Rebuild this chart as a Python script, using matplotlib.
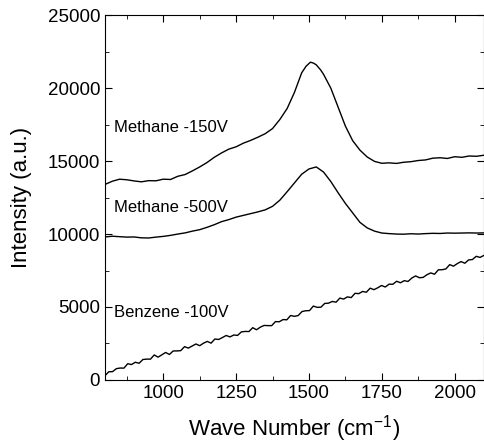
import numpy as np
import matplotlib
matplotlib.use("Agg")
import matplotlib.pyplot as plt
from matplotlib.ticker import MultipleLocator

plt.rcParams["font.family"] = ["Liberation Sans", "DejaVu Sans"]
plt.rcParams["mathtext.fontset"] = "custom"
plt.rcParams["mathtext.rm"] = "Liberation Sans"
plt.rcParams["mathtext.it"] = "Liberation Sans"

# Methane -150V spectrum
ch4_150_x = [800, 825, 850, 875, 900, 925, 950, 975, 1000, 1025, 1050, 1075, 1100,
             1125, 1150, 1175, 1200, 1225, 1250, 1275, 1300, 1325, 1350, 1375, 1400,
             1425, 1450, 1475, 1490, 1505, 1515, 1525, 1540, 1550, 1575, 1600, 1625,
             1650, 1675, 1700, 1725, 1750, 1775, 1800, 1825, 1850, 1875, 1900, 1925,
             1950, 1975, 2000, 2025, 2050, 2075, 2100]
ch4_150_y = [13400, 13620, 13760, 13720, 13640, 13580, 13660, 13650, 13760, 13740,
             13960, 14080, 14330, 14600, 14900, 15260, 15560, 15820, 15980, 16230,
             16420, 16640, 16880, 17230, 17850, 18600, 19700, 21050, 21500, 21780,
             21720, 21600, 21250, 20950, 20000, 18700, 17400, 16400, 15750, 15280,
             14980, 14850, 14880, 14840, 14920, 14960, 15040, 15080, 15200, 15230,
             15180, 15300, 15260, 15350, 15330, 15400]

# Methane -500V spectrum
ch4_500_x = [800, 825, 850, 875, 900, 925, 950, 975, 1000, 1025, 1050, 1075, 1100,
             1125, 1150, 1175, 1200, 1225, 1250, 1275, 1300, 1325, 1350, 1375, 1400,
             1425, 1450, 1475, 1500, 1525, 1550, 1575, 1600, 1625, 1650, 1675, 1700,
             1725, 1750, 1775, 1800, 1825, 1850, 1875, 1900, 1925, 1950, 1975, 2000,
             2025, 2050, 2075, 2100]
ch4_500_y = [9800, 9850, 9820, 9790, 9800, 9740, 9730, 9790, 9840, 9910, 10000, 10080,
             10200, 10300, 10460, 10640, 10850, 10990, 11160, 11280, 11400, 11520,
             11660, 11900, 12320, 12900, 13500, 14100, 14460, 14600, 14250, 13600,
             12830, 12100, 11450, 10800, 10420, 10200, 10070, 10030, 10000, 9990,
             10020, 10000, 10030, 10050, 10040, 10070, 10060, 10070, 10080, 10070,
             10080]

# Benzene -100V spectrum (every 13 cm-1)
c6h6_x = np.arange(800, 2101, 13)
c6h6_y = [300, 560, 570, 774, 817, 810, 1113, 1056, 1214, 1142,
          1400, 1428, 1426, 1714, 1562, 1720, 1884, 1746, 1987, 1989,
          2010, 2282, 2183, 2325, 2466, 2348, 2519, 2641, 2522, 2804,
          2775, 2907, 3048, 2950, 3081, 3053, 3294, 3326, 3317, 3582,
          3440, 3618, 3736, 3724, 3722, 4000, 3988, 4138, 4122, 4416,
          4360, 4414, 4688, 4742, 4754, 5065, 4976, 4987, 5244, 5262,
          5380, 5328, 5612, 5543, 5694, 5645, 5938, 5916, 6064, 6012,
          6290, 6188, 6316, 6474, 6370, 6565, 6560, 6765, 6660, 6805,
          6750, 6985, 7130, 7005, 7030, 7215, 7336, 7247, 7548, 7556,
          7610, 7904, 7798, 7974, 8112, 8000, 8228, 8253, 8474, 8399,
          8530]

labels = ["Methane -150V", "Methane -500V", "Benzene -100V"]
label_y = [17300, 11800, 4650]

fig = plt.figure(figsize=(4.85, 4.47), dpi=100)
ax = fig.add_axes([0.2165, 0.150, 0.781, 0.816])

for xs, ys in [(ch4_150_x, ch4_150_y), (ch4_500_x, ch4_500_y), (c6h6_x, c6h6_y)]:
    ax.plot(xs, ys, color="black", lw=1.0)

for text, yv in zip(labels, label_y):
    ax.text(830, yv, text, fontsize=12, va="center", ha="left")

ax.set_xlim(800, 2100)
ax.set_ylim(0, 25000)
ax.xaxis.set_major_locator(MultipleLocator(250))
ax.xaxis.set_minor_locator(MultipleLocator(125))
ax.yaxis.set_major_locator(MultipleLocator(5000))
ax.yaxis.set_minor_locator(MultipleLocator(2500))
ax.tick_params(which="both", direction="in", top=True, right=True, labelsize=13.5)
ax.tick_params(which="major", length=5)
ax.tick_params(which="minor", length=3)
ax.set_xticks([1000, 1250, 1500, 1750, 2000])

ax.set_xlabel("Wave Number (cm$^{-1}$)", fontsize=16, labelpad=8)
ax.set_ylabel("Intensity (a.u.)", fontsize=16, labelpad=11)

fig.savefig("out.png", dpi=100)
